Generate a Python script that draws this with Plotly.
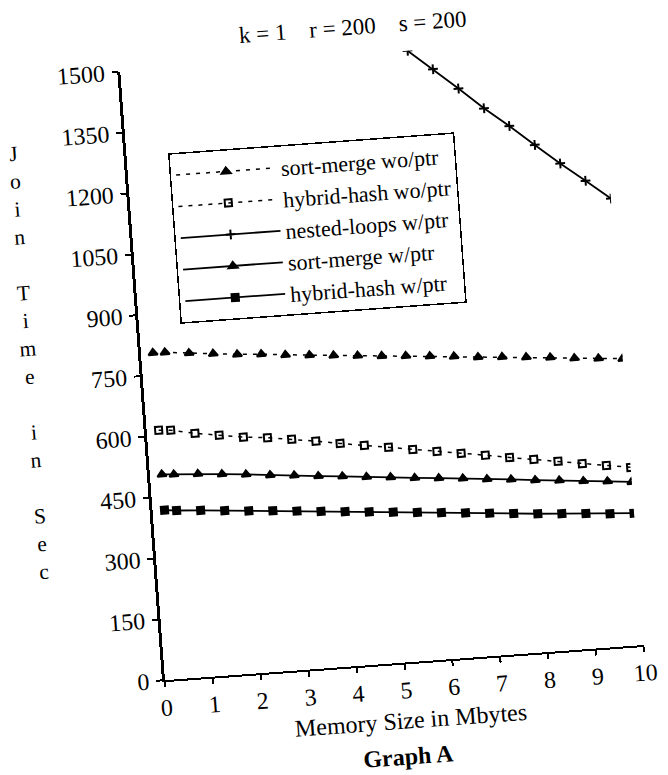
import plotly.graph_objects as go

# Memory sizes (Mbytes) at which each join was timed
memory_mb = [0.25, 0.5, 1.0, 1.5, 2.0, 2.5, 3.0, 3.5, 4.0, 4.5, 5.0,
             5.5, 6.0, 6.5, 7.0, 7.5, 8.0, 8.5, 9.0, 9.5, 10.0]

# Join time in seconds, k = 1, r = 200, s = 200
sort_merge_wo_ptr = [805, 804, 798, 792, 786, 782, 776, 771, 766, 761, 756,
                     752, 747, 742, 736, 732, 727, 722, 716, 711, 706]
hybrid_hash_wo_ptr = [614, 612, 600, 591, 582, 576, 568, 559, 549, 540, 531,
                      521, 512, 503, 494, 484, 475, 466, 456, 447, 438]
sort_merge_w_ptr = [505, 503, 500, 495, 490, 484, 479, 473, 468, 462, 457,
                    451, 446, 441, 435, 430, 424, 419, 413, 408, 402]
hybrid_hash_w_ptr = [417, 414, 410, 405, 400, 396, 391, 386, 381, 376, 371,
                     366, 361, 356, 351, 346, 341, 337, 333, 328, 325]

# nested loops only enters the 0-1500 s window from 6 Mbytes on
nested_memory_mb = [6.0, 6.5, 7.0, 7.5, 8.0, 8.5, 9.0, 9.5, 10.0]
nested_loops_w_ptr = [1500, 1450, 1398, 1345, 1297, 1246, 1196, 1149, 1101]

x_ticks = list(range(0, 11))
y_ticks = list(range(0, 1501, 150))

SERIF = "Liberation Serif, Times New Roman, serif"
INK = "black"

series = [
    ("sort-merge wo/ptr", memory_mb, sort_merge_wo_ptr, "triangle-up", "4px,6px", 8),
    ("hybrid-hash wo/ptr", memory_mb, hybrid_hash_wo_ptr, "square-open", "4px,6px", 7),
    ("nested-loops w/ptr", nested_memory_mb, nested_loops_w_ptr, "cross-thin", "solid", 7),
    ("sort-merge w/ptr", memory_mb, sort_merge_w_ptr, "triangle-up", "solid", 8),
    ("hybrid-hash w/ptr", memory_mb, hybrid_hash_w_ptr, "square", "solid", 7),
]

fig = go.Figure()
for i, (name, xs, ys, symbol, dash, size) in enumerate(series):
    fig.add_trace(go.Scatter(
        x=xs, y=ys, name=name, mode="lines+markers",
        line=dict(color=INK, width=1.8 if dash == "solid" else 1.5, dash=dash),
        marker=dict(symbol=symbol, size=size, color=INK,
                    line=dict(color=INK, width=2)),
        legendgroup=f"g{i}",
        cliponaxis=True,
    ))

axis_common = dict(
    showgrid=False, zeroline=False, showline=True, linecolor=INK,
    ticks="outside", tickcolor=INK, tickwidth=1.5,
    tickfont=dict(family=SERIF, size=24, color=INK),
)

fig.update_layout(
    width=668, height=775,
    margin=dict(l=144, r=44, t=57, b=108),
    paper_bgcolor="white", plot_bgcolor="white",
    font=dict(family=SERIF, color=INK),
    showlegend=True,
    legend=dict(
        x=0.0867, y=0.861, xanchor="left", yanchor="top",
        bordercolor=INK, borderwidth=1.5, bgcolor="white",
        font=dict(family=SERIF, size=22, color=INK),
        itemwidth=100, tracegroupgap=0,
    ),
    xaxis=dict(range=[0, 10], tickvals=x_ticks, linewidth=2, ticklen=5,
               ticklabelstandoff=0, **axis_common),
    yaxis=dict(range=[0, 1500], tickvals=y_ticks, linewidth=2.5, ticklen=6,
               ticklabelstandoff=2, **axis_common),
    annotations=[
        dict(text="k = 1\u00a0\u00a0\u00a0 r = 200\u00a0\u00a0\u00a0 s = 200",
             x=0.4896, y=1.0443, xref="paper", yref="paper",
             xanchor="center", yanchor="middle", showarrow=False,
             font=dict(family=SERIF, size=23, color=INK)),
        dict(text="Memory Size in Mbytes",
             x=0.506, y=-0.0951, xref="paper", yref="paper",
             xanchor="center", yanchor="middle", showarrow=False,
             font=dict(family=SERIF, size=24, color=INK)),
        dict(text="<b>Graph A</b>",
             x=0.494, y=-0.154, xref="paper", yref="paper",
             xanchor="center", yanchor="middle", showarrow=False,
             font=dict(family=SERIF, size=24, color=INK)),
        dict(text="<br>".join(["J", "o", "i", "n", " ", "T", "i", "m", "e", " ",
                               "i", "n", " ", "S", "e", "c"]),
             x=-0.2354, y=0.536, xref="paper", yref="paper",
             xanchor="center", yanchor="middle", showarrow=False,
             font=dict(family=SERIF, size=21.5, color=INK)),
    ],
)

# the printed graph sits slightly tilted on the page
tilt_js = (
    "document.body.style.margin='0';"
    "var gd=document.getElementById('{plot_id}');"
    "gd.style.transformOrigin='50% 50%';"
    "gd.style.transform='rotate(-4.2deg)';"
)

fig.write_html("out.html", config={"displayModeBar": False}, post_script=tilt_js)
